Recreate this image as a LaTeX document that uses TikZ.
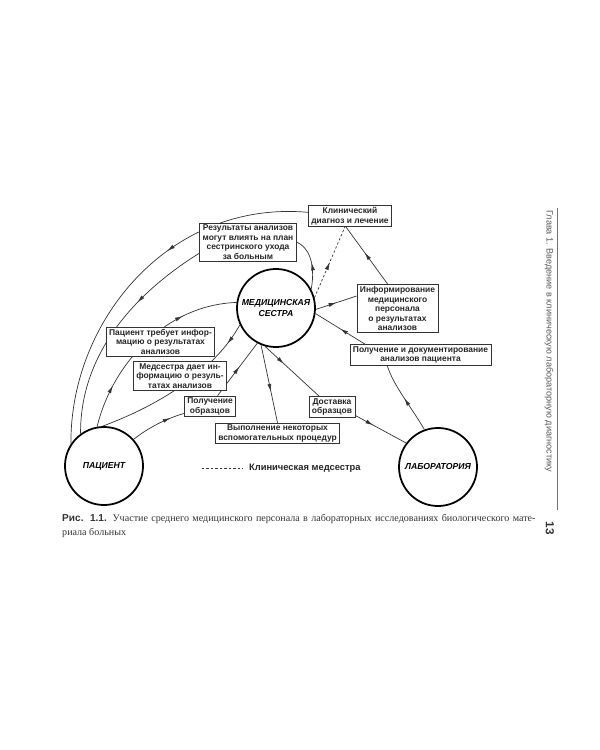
\documentclass[tikz,border=0pt]{standalone}
\usepackage{fontspec}
\setmainfont{Liberation Sans}
\setsansfont{Liberation Sans}
\newfontfamily\capserif{Liberation Serif}
\usetikzlibrary{arrows.meta,decorations.markings,backgrounds,calc}

\tikzset{
  box/.style={draw=black!80,line width=0.7pt,fill=white,align=center,inner xsep=2.5pt,inner ysep=1.6pt,
    font=\fontsize{7.2}{8.1}\selectfont\bfseries,text=black!85},
  circ/.style={circle,draw=black,line width=1.5pt,fill=white,minimum size=66.6pt,inner sep=0pt,align=center,
    font=\fontsize{7.4}{8.6}\selectfont\bfseries\itshape},
  conn/.style={draw=black!80,line width=0.6pt},
  dsh/.style={dash pattern=on 2pt off 1.8pt},
  ma/.style={postaction={decorate},decoration={markings,mark=at position #1 with {\arrow{>}}}},
  mb/.style 2 args={postaction={decorate},decoration={markings,mark=at position #1 with {\arrow{>}},
    mark=at position #2 with {\arrow{>}}}}
}

\begin{document}
\begin{tikzpicture}[x=0.3mm,y=-0.3mm,>={Latex[length=6.5pt,width=3.4pt]}]
\useasboundingbox (0,0) rectangle (600,750);
\node[circ] (med) at (276,308) {МЕДИЦИНСКАЯ\\СЕСТРА};
\node[circ] (pat) at (104,466) {ПАЦИЕНТ};
\node[circ] (lab) at (438,467) {ЛАБОРАТОРИЯ};
\node[box] (klin) at (350,216) {Клинический\\диагноз и лечение};
\node[box] (res) at (248,242) {Результаты анализов\\могут влиять на план\\сестринского ухода\\за больным};
\node[box] (inf) at (397.5,308.5) {Информирование\\медицинского\\персонала\\о результатах\\анализов};
\node[box] (pol) at (420.5,355) {Получение и документирование\\анализов пациента};
\node[box] (treb) at (160.5,341.5) {Пациент требует инфор-\\мацию о результатах\\анализов};
\node[box] (daet) at (180,376) {Медсестра дает ин-\\формацию о резуль-\\татах анализов};
\node[box] (obr) at (210,406.5) {Получение\\образцов};
\node[box] (vyp) at (277.5,433.5) {Выполнение некоторых\\вспомогательных процедур};
\node[box] (dost) at (332,407) {Доставка\\образцов};
\coordinate (lg) at (202,468);
\node[anchor=west,inner xsep=5pt,inner ysep=1pt,font=\fontsize{8}{9}\selectfont\bfseries,text=black!85] (lgt) at (243,468) {Клиническая медсестра};
\begin{scope}[on background layer]
\draw[conn,ma=0.4] (klin.175) .. controls (170,200) and (70,320) .. (pat.146);
\draw[conn,ma=0.35] (res.193) .. controls (140,290) and (80,350) .. (pat.126);
\draw[conn,ma=0.5] (med.28) .. controls (316,262) and (308,247) .. (res.east);
\draw[conn,dsh,ma=0.5] (med.15) -- (klin.-115);
\draw[conn,ma=0.5] (med.-2) -- (inf.163);
\draw[conn,ma=0.55] (inf.112) -- (klin.-110);
\draw[conn,ma=0.5] (lab.110) .. controls (412,408) and (393,385) .. (pol.198);
\draw[conn,ma=0.5] (pol.169) -- (med.-8);
\draw[conn,ma=0.35] (med.-106) -- (dost.140);
\draw[conn,ma=0.35] (dost.-20) -- (lab.143);
\draw[conn,ma=0.6] (med.-112) -- (vyp.north);
\draw[conn,ma=0.75] (pat.42) .. controls (148,428) and (165,419) .. (obr.195);
\draw[conn,ma=0.55] (obr.55) -- (med.-118);
\draw[conn,mb={0.22}{0.72}] (pat.100) .. controls (112,365) and (165,305) .. (med.172);
\draw[conn,ma=0.13] (med.205) .. controls (215,370) and (160,405) .. (pat.92);
\end{scope}
\draw[conn,dsh] (lg) -- (lgt.west);
\node[anchor=north west,inner sep=0pt,align=left,text=black!80,font=\capserif\fontsize{8.6}{12}\selectfont] (cap) at (62,514)
  {\makebox[404pt][s]{{\sffamily\bfseries Рис. 1.1.} Участие среднего медицинского персонала в лабораторных исследованиях биологического мате-}\\риала больных};
\node[rotate=-90,anchor=west,inner sep=0pt,text=black!65,font=\fontsize{7.8}{9}\selectfont] (hdr) at (549,210) {Глава 1. Введение в клиническую лабораторную диагностику};
\node[rotate=-90,inner sep=0pt,text=black!80,font=\fontsize{10}{12}\selectfont\bfseries] (pg) at (550,528) {13};
\draw[black!55,line width=0.5pt] (557,208) -- (557,510);
\end{tikzpicture}
\end{document}
